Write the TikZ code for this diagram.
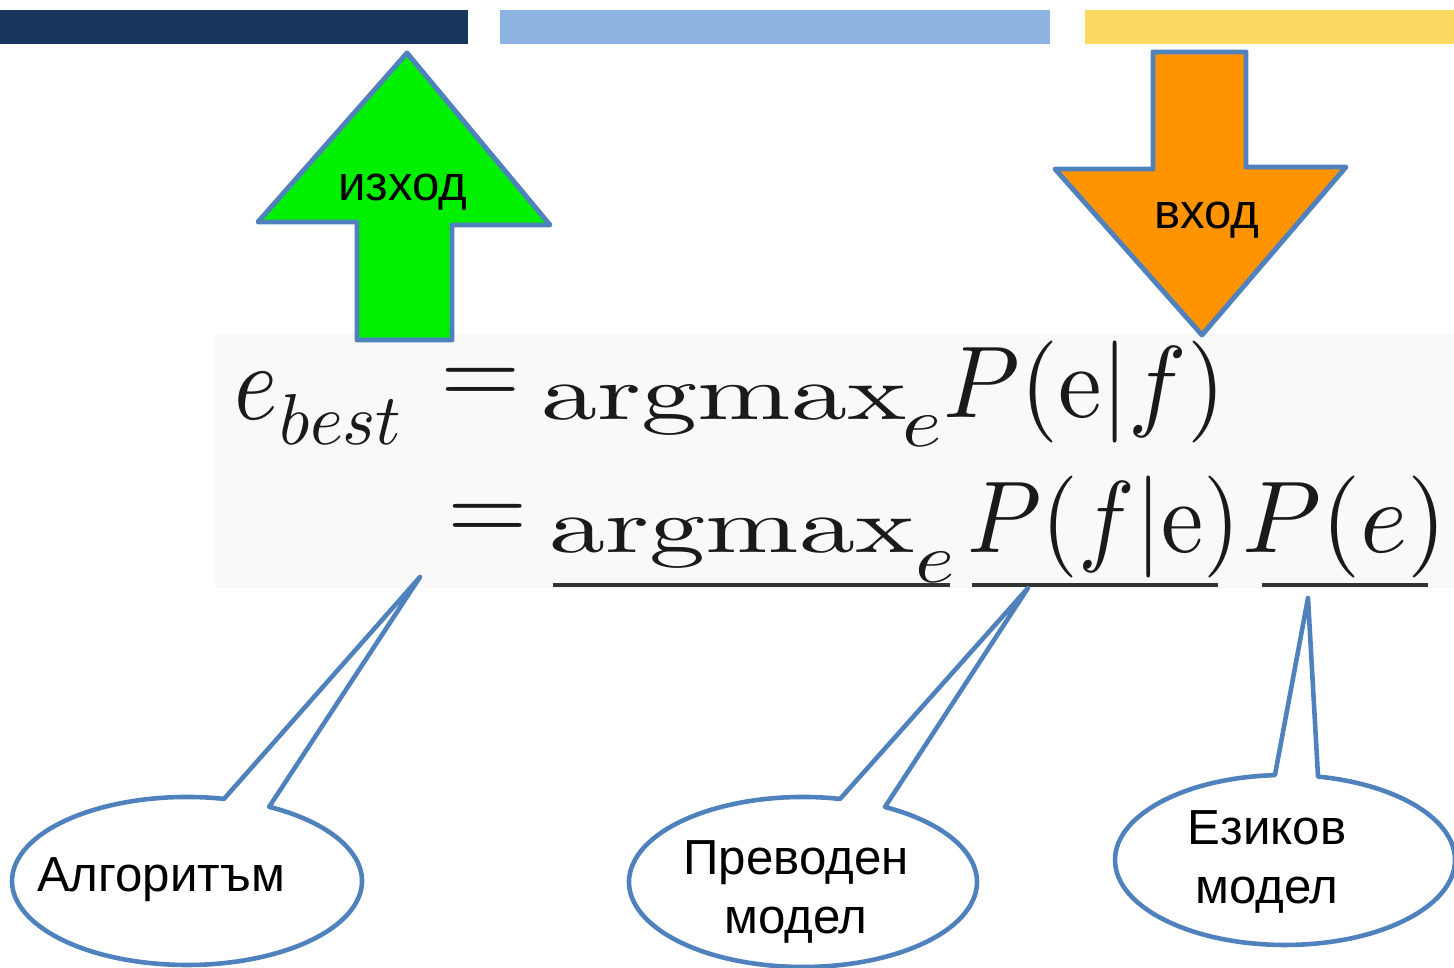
\documentclass[tikz,border=0pt]{standalone}
\usepackage{fontspec}
\newfontfamily\labelfont{Liberation Sans}
\usepackage{graphicx}
\definecolor{navybar}{HTML}{17375E}
\definecolor{lightbar}{HTML}{8DB3E2}
\definecolor{yellowbar}{HTML}{FDD961}
\definecolor{outline}{HTML}{4F81BD}
\definecolor{greenfill}{HTML}{00F000}
\definecolor{orangefill}{HTML}{FF9400}
\definecolor{formulabg}{HTML}{F9F9F9}
\definecolor{ink}{HTML}{1A1A1A}
% size in pt, horizontal stretch, math content (set at 10pt, then scaled)
\newcommand{\fpiece}[3]{\pgfmathsetmacro\fpy{#1/10}\pgfmathsetmacro\fpx{#1*#2/10}\scalebox{\fpx}[\fpy]{\fontsize{10pt}{12pt}\selectfont$#3$}}
\tikzset{
  bigarrow/.style={draw=outline, line width=1.4pt, line join=round},
  callout/.style={draw=outline, fill=white, line width=1.3pt, line join=round},
  lbl/.style={font=\labelfont\fontsize{14pt}{16.5pt}\selectfont, inner sep=0pt, align=center},
  fp/.style={inner sep=0pt, anchor=base west, text=ink},
  uline/.style={draw=black!80, line width=1pt}
}
\begin{document}
\begin{tikzpicture}[x=0.01cm, y=0.01cm]
\useasboundingbox (0,0) rectangle (1454,968);
% top bars
\fill[navybar] (0,924) rectangle (468,958);
\fill[lightbar] (500,924) rectangle (1050,958);
\fill[yellowbar] (1085,924) rectangle (1454,958);
% formula background
\fill[formulabg] (215,380) rectangle (1454,635);
% formula, line 1
\node[fp] (e1) at (234,548) {\fpiece{31}{0.85}{e}};
\node[fp] (best) at (279,523) {\fpiece{20.5}{0.98}{best}};
\node[fp] (eq1) at (440,563) {\fpiece{28}{1.05}{=}};
\node[fp] (am1) at (541,548) {\fpiece{22}{1.45}{\mathrm{argmax}}};
\node[fp] (s1) at (902,521) {\fpiece{20}{1.2}{e}};
\node[fp] (p1) at (943,550) {\fpiece{29}{0.96}{P(\mathrm{e}|f)}};
% formula, line 2
\node[fp] (eq2) at (447,427) {\fpiece{28}{1.05}{=}};
\node[fp] (am2) at (549,415) {\fpiece{22}{1.45}{\mathrm{argmax}}};
\node[fp] (s2) at (915,385) {\fpiece{20}{1.2}{e}};
\node[fp] (p2) at (967,415) {\fpiece{29}{0.93}{P(f|\mathrm{e})}};
\node[fp] (p3) at (1242,415) {\fpiece{29}{0.99}{P(e)}};
\draw[uline] (553,383) -- (950,383);
\draw[uline] (972,383) -- (1218,383);
\draw[uline] (1262,383) -- (1428,383);
% green arrow (output)
\draw[bigarrow, fill=greenfill] (407,915) -- (550,743) -- (452,743) -- (452,628) -- (357,628) -- (357,746) -- (258,746) -- cycle;
\node[lbl] (out) at (403,776) {изход};
% orange arrow (input)
\draw[bigarrow, fill=orangefill] (1153,916) -- (1246,916) -- (1246,801) -- (1346,801) -- (1202,633) -- (1055,799) -- (1153,799) -- cycle;
\node[lbl] (in) at (1207,748) {вход};
% callouts
\coordinate (tipA) at (420,391);
\coordinate (tipB) at (1028,380);
\coordinate (tipC) at (1308,370);
\draw[callout] (224,169.1) arc[start angle=77.8, end angle=422, x radius=175, y radius=84] -- (tipA) -- cycle;
\node[lbl] (alg) at (161,88) {Алгоритъм};
\draw[callout] ({803+174*cos(77.7)},{86+85*sin(77.7)}) arc[start angle=77.7, end angle=421.9, x radius=174, y radius=85] -- (tipB) -- cycle;
\node[lbl] (tm) at (796,76) {Преводен\\модел};
\draw[callout] ({1285+170*cos(93.4)},{108+85*sin(93.4)}) arc[start angle=93.4, end angle=438.8, x radius=170, y radius=85] -- (tipC) -- cycle;
\node[lbl] (lm) at (1267,106) {Езиков\\модел};
\end{tikzpicture}
\end{document}
